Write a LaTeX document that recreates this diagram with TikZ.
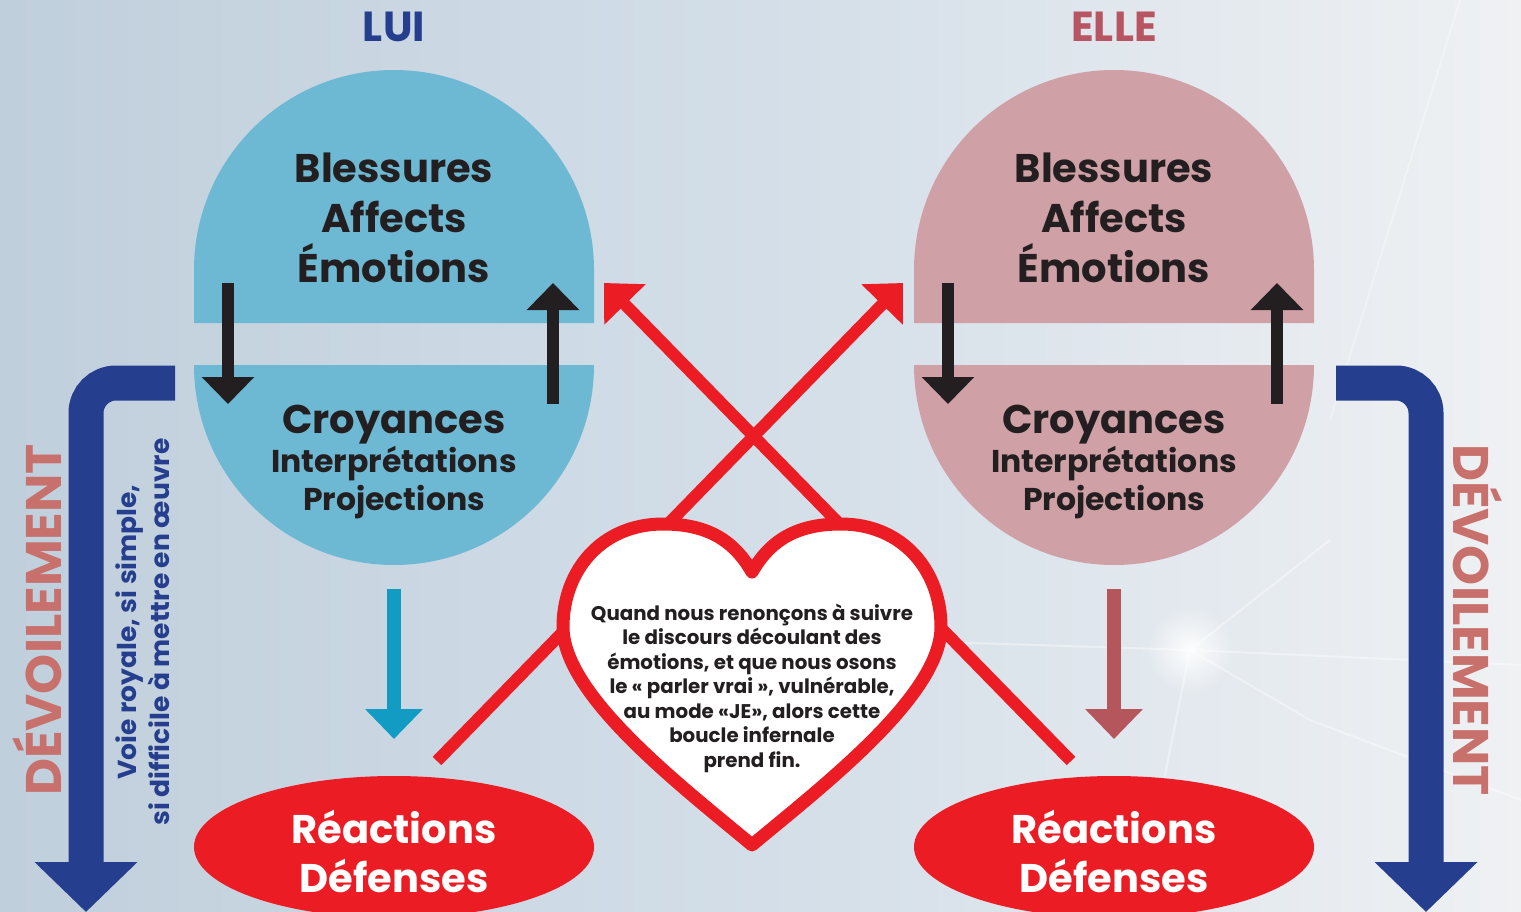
\documentclass[tikz,border=0pt]{standalone}
\usepackage{fontspec}
\setmainfont{Poppins}
\usetikzlibrary{arrows.meta,shapes.geometric,fadings}
\tikzfading[name=glowfade, inner color=transparent!0, outer color=transparent!100]
\definecolor{bgL}{HTML}{C0CFDC}
\definecolor{bgM}{HTML}{D3DEE8}
\definecolor{bgR}{HTML}{EFF1F3}
\definecolor{luiC}{HTML}{6DB8D3}
\definecolor{elleC}{HTML}{CFA0A6}
\definecolor{ink}{HTML}{231F20}
\definecolor{navy}{HTML}{253F8E}
\definecolor{rose}{HTML}{B75562}
\definecolor{devC}{HTML}{C8706B}
\definecolor{hred}{HTML}{EC1C24}
\definecolor{dblue}{HTML}{129CC3}
\definecolor{drose}{HTML}{B5565D}
\begin{document}
\begin{tikzpicture}[x=1pt,y=-1pt,
  every node/.style={inner sep=0pt,outer sep=0pt},
  big/.style={font=\bfseries\fontsize{40}{40}\selectfont,text=ink,anchor=base},
  mid/.style={font=\bfseries\fontsize{31.5}{31.5}\selectfont,text=ink,anchor=base},
  head/.style={font=\bfseries\fontsize{42}{42}\selectfont,anchor=base},
  react/.style={font=\bfseries\fontsize{40}{40}\selectfont,text=white,anchor=base},
  blkarrow/.style={line width=12pt,draw=ink,-{Triangle[length=27pt,width=51pt]}},
  redarrow/.style={line width=12pt,draw=hred,-{Triangle[length=30pt,width=56pt]}},
  downarrow/.style={line width=14pt,-{Triangle[length=30pt,width=56pt]}},
  bentarrow/.style={line width=35pt,draw=navy,rounded corners=30pt,-{Triangle[length=50pt,width=100pt]}},
  reactbox/.style={ellipse,fill=hred,minimum width=400pt,minimum height=142pt},
  devtext/.style={font=\bfseries\fontsize{50}{50}\selectfont,text=devC},
  hearttext/.style={font=\bfseries\fontsize{19.8}{24.5}\selectfont,text=ink,align=center},
  ray/.style={draw=white,line width=2pt,opacity=0.4}
]
\useasboundingbox (0,0) rectangle (1521,912);
\shade[left color=bgL,right color=bgR,middle color=bgM] (0,0) rectangle (1521,912);
% light rays
\fill[white,path fading=glowfade,opacity=0.9] (1190,650) circle[radius=45pt];
\draw[ray] (880,640) -- (1190,650) -- (1521,665);
\draw[ray] (1190,650) -- (1330,540);
\draw[ray] (1190,650) -- (1310,720) -- (1521,800);
\draw[ray] (1190,650) -- (1160,800);
\draw[ray,opacity=0.3] (1460,0) -- (1330,420);

% capsules
\foreach \cx/\col in {394/luiC,1114/elleC}{
  \fill[\col] (\cx-200,323) -- (\cx-200,270) arc[start angle=180,end angle=0,radius=200pt] -- (\cx+200,323) -- cycle;
  \fill[\col] (\cx-200,365) -- (\cx+200,365) arc[start angle=0,end angle=-180,radius=200pt] -- cycle;
}

% titles
\node[head,text=navy] (lui) at (394,42) {LUI};
\node[head,text=rose] (elle) at (1114,42) {ELLE};

% circle texts
\foreach \cx/\n in {394/a,1114/b}{
  \node[big] (bl\n) at (\cx,183) {Blessures};
  \node[big] (af\n) at (\cx,233) {Affects};
  \node[big] (em\n) at (\cx,283) {Émotions};
  \node[big] (cr\n) at (\cx,433) {Croyances};
  \node[mid] (in\n) at (\cx,472) {Interprétations};
  \node[mid] (pr\n) at (\cx,510) {Projections};
}

% black arrows
\coordinate (la1) at (228,283); \coordinate (la2) at (228,404);
\coordinate (lb1) at (553,404); \coordinate (lb2) at (553,283);
\coordinate (ra1) at (948,283); \coordinate (ra2) at (948,404);
\coordinate (rb1) at (1277,404); \coordinate (rb2) at (1277,283);
\draw[blkarrow] (la1) -- (la2);
\draw[blkarrow] (lb1) -- (lb2);
\draw[blkarrow] (ra1) -- (ra2);
\draw[blkarrow] (rb1) -- (rb2);

% red crossing lines
\coordinate (x1s) at (437,761); \coordinate (x1e) at (903,283);
\coordinate (x2s) at (1071,761); \coordinate (x2e) at (604,283);
\draw[redarrow] (x1s) -- (x1e);
\draw[redarrow] (x2s) -- (x2e);

% heart
\draw[draw=hred,fill=white,line width=13pt,line join=round]
  (752,572) .. controls (732,537) and (703,524) .. (663,524)
  .. controls (602,524) and (563,570) .. (563,627)
  .. controls (563,695) and (680,785) .. (752,845)
  .. controls (824,785) and (941,695) .. (941,627)
  .. controls (941,570) and (902,524) .. (841,524)
  .. controls (801,524) and (772,537) .. (752,572) -- cycle;
\node[hearttext] (msg) at (752,688) {Quand nous renonçons à suivre\\le discours découlant des\\émotions, et que nous osons\\le « parler vrai », vulnérable,\\au mode «JE», alors cette\\boucle infernale\\prend fin.};

% down arrows
\coordinate (d1s) at (394,589); \coordinate (d1e) at (394,739);
\coordinate (d2s) at (1114,589); \coordinate (d2e) at (1114,739);
\draw[downarrow,draw=dblue] (d1s) -- (d1e);
\draw[downarrow,draw=drose] (d2s) -- (d2e);

% reactions
\node[reactbox] (reA) at (394,847) {};
\node[reactbox] (reB) at (1114,847) {};
\foreach \cx/\n in {394/a,1114/b}{
  \node[react] (rx\n) at (\cx,843) {Réactions};
  \node[react] (df\n) at (\cx,892) {Défenses};
}

% bent arrows
\coordinate (bl0) at (175,383); \coordinate (blc) at (86,383); \coordinate (ble) at (86,912);
\coordinate (br0) at (1336,383); \coordinate (brc) at (1426,383); \coordinate (bre) at (1426,912);
\draw[bentarrow] (bl0) -- (blc) -- (ble);
\draw[bentarrow] (br0) -- (brc) -- (bre);

% side texts
\node[devtext,rotate=90] (devL) at (37,620) {\scalebox{1.02}[1]{DÉVOILEMENT}};
\node[devtext,rotate=-90] (devR) at (1478,620) {\scalebox{1.02}[1]{DÉVOILEMENT}};
\node[rotate=90,font=\bfseries\fontsize{26}{33}\selectfont,text=navy,align=center] (voie) at (143,632)
  {\scalebox{1.02}[1]{Voie royale, si simple,}\\\scalebox{1.02}[1]{si difficile à mettre en œuvre}};
\end{tikzpicture}
\end{document}
